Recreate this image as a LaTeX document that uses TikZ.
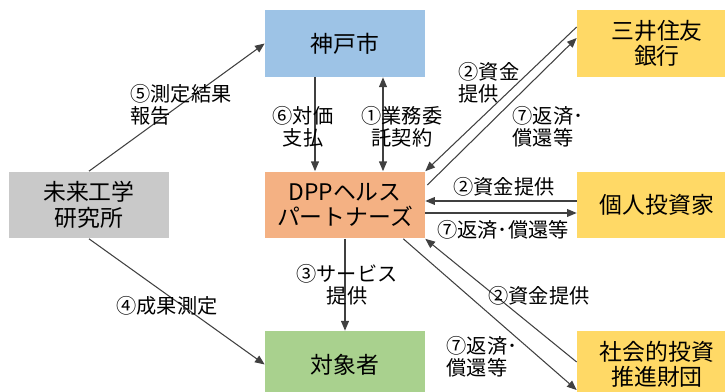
\documentclass[tikz,border=0pt]{standalone}
\usepackage{fontspec}
\setmainfont{Noto Sans CJK JP}
\usetikzlibrary{arrows.meta,calc}

\definecolor{kobeblue}{HTML}{9DC3E6}
\definecolor{bankgold}{HTML}{FFD966}
\definecolor{labgrey}{HTML}{C9C9C9}
\definecolor{dpporange}{HTML}{F4B183}
\definecolor{usergreen}{HTML}{A9D18E}

\tikzset{
  org/.style={minimum width=3.2cm, minimum height=1.34cm, inner sep=0pt,
    align=center, font=\fontsize{13}{14.5}\selectfont},
  lbl/.style={inner sep=0pt, font=\fontsize{11.5}{12.6}\selectfont},
  flow/.style={line width=0.6pt, draw=black!75, -{Triangle[length=5.5pt,width=4.5pt]}},
  twoway/.style={flow, {Triangle[length=5.5pt,width=4.5pt]}-{Triangle[length=5.5pt,width=4.5pt]}},
}

\begin{document}
\begin{tikzpicture}[x=0.02cm, y=0.02cm]
    \useasboundingbox (0,0) rectangle (725,392);
    \clip (0,0) rectangle (725,392);

    % organisations
    \node[org, fill=kobeblue]  (kobe)   at (345,348.5) {神戸市};
    \node[org, fill=bankgold]  (ginko)  at (657,348.5) {三井住友\\銀行};
    \node[org, fill=labgrey]   (mirai)  at (89,187)    {未来工学\\研究所};
    \node[org, fill=dpporange] (dpp)    at (345,187)   {DPPヘルス\\パートナーズ};
    \node[org, fill=bankgold]  (kojin)  at (657,187)   {個人投資家};
    \node[org, fill=usergreen] (taisho) at (345,27.5)  {対象者};
    \node[org, fill=bankgold]  (zaidan) at (657,27.5)  {社会的投資\\推進財団};

    % flows
    \draw[flow] (mirai.north) -- (kobe.west);
    \draw[flow] (mirai.south) -- (taisho.west);
    \draw[flow] ($(kobe.south)+(-30,0)$) -- ($(dpp.north)+(-30,0)$);
    \draw[twoway] ($(kobe.south)+(38,0)$) -- ($(dpp.north)+(38,0)$);
    \draw[flow] (dpp.south) -- (taisho.north);
    \draw[flow] ($(ginko.west)+(0,16.5)$) -- (dpp.north east);
    \draw[flow] ($(dpp.east)+(2,20)$) -- ($(ginko.west)+(0,5.5)$);
    \draw[flow] ($(kojin.west)+(0,4)$) -- ($(dpp.east)+(0,4)$);
    \draw[flow] ($(dpp.east)+(0,-8)$) -- ($(kojin.west)+(0,-8)$);
    \draw[flow] ($(zaidan.west)+(0,2.5)$) -- (dpp.south east);
    \draw[flow] ($(dpp.south east)+(-22,0)$) -- ($(zaidan.west)+(0,-25.5)$);

    % labels
    \node[lbl, align=left]   (l5)  at (181,287) {⑤測定結果\\報告};
    \node[lbl, align=center] (l6)  at (303,265) {⑥対価\\支払};
    \node[lbl, align=center] (l1)  at (402,265) {①業務委\\託契約};
    \node[lbl, align=left]   (l2a) at (489,309) {②資金\\提供};
    \node[lbl, align=left]   (l7a) at (548,265) {⑦返済･\\償還等};
    \node[lbl]               (l2b) at (504,205) {②資金提供};
    \node[lbl]               (l7b) at (503,162) {⑦返済･償還等};
    \node[lbl]               (l2c) at (539,96)  {②資金提供};
    \node[lbl, align=left]   (l7c) at (482,35)  {⑦返済･\\償還等};
    \node[lbl]               (l4)  at (167,86)  {④成果測定};
    \node[lbl, align=center] (l3)  at (347,107) {③サービス\\提供};
\end{tikzpicture}
\end{document}
